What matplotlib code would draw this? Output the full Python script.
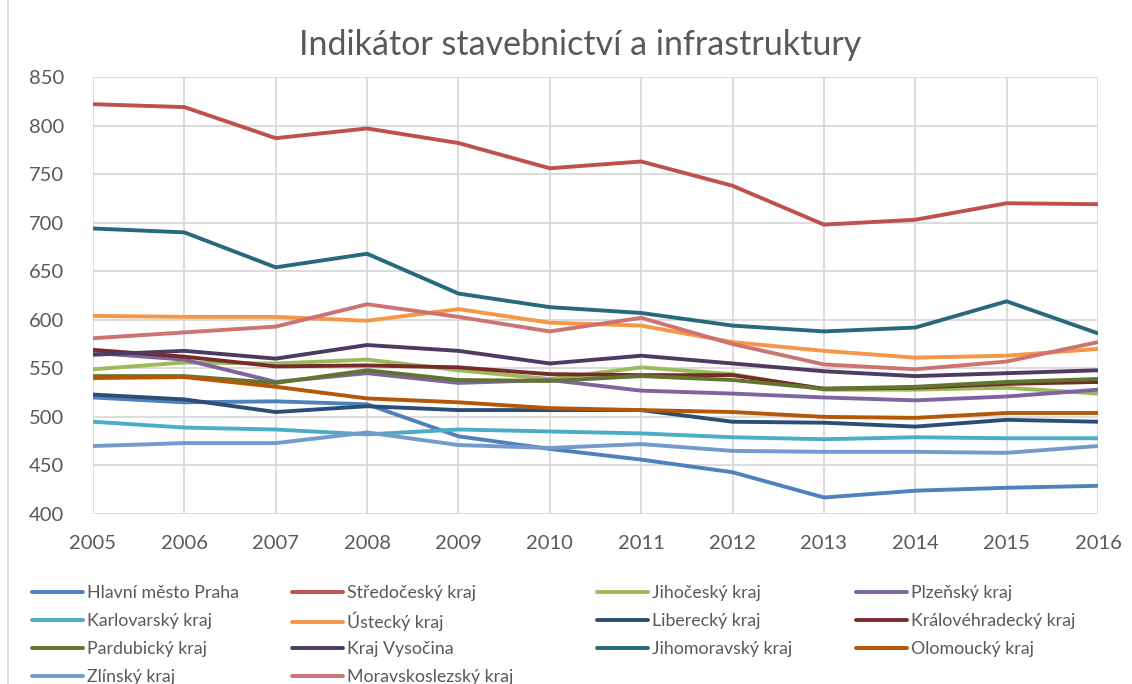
import matplotlib
matplotlib.use("Agg")
import matplotlib.pyplot as plt
from matplotlib.patches import Rectangle

years = list(range(2005, 2017))

regions = ["Hlavní město Praha", "Středočeský kraj", "Jihočeský kraj", "Plzeňský kraj",
           "Karlovarský kraj", "Ústecký kraj", "Liberecký kraj", "Královéhradecký kraj",
           "Pardubický kraj", "Kraj Vysočina", "Jihomoravský kraj", "Olomoucký kraj",
           "Zlínský kraj", "Moravskoslezský kraj"]

praha = [520, 515, 516, 513, 480, 467, 456, 443, 417, 424, 427, 429]
stredocesky = [822, 819, 787, 797, 782, 756, 763, 738, 698, 703, 720, 719]
jihocesky = [549, 556, 555, 559, 548, 539, 551, 544, 528, 528, 530, 524]
plzensky = [566, 559, 536, 545, 535, 538, 527, 524, 520, 517, 521, 528]
karlovarsky = [495, 489, 487, 482, 487, 485, 483, 479, 477, 479, 478, 478]
ustecky = [604, 603, 603, 599, 611, 597, 594, 577, 568, 561, 563, 570]
liberecky = [523, 518, 505, 511, 507, 507, 507, 495, 494, 490, 497, 495]
kralovehradecky = [569, 562, 552, 553, 551, 544, 543, 543, 529, 530, 534, 536]
pardubicky = [542, 542, 535, 548, 538, 537, 542, 538, 529, 531, 536, 539]
vysocina = [564, 568, 560, 574, 568, 555, 563, 555, 547, 542, 545, 548]
jihomoravsky = [694, 690, 654, 668, 627, 613, 607, 594, 588, 592, 619, 586]
olomoucky = [540, 541, 531, 519, 515, 509, 507, 505, 500, 499, 504, 504]
zlinsky = [470, 473, 473, 484, 471, 468, 472, 465, 464, 464, 463, 470]
moravskoslezsky = [581, 587, 593, 616, 603, 588, 602, 575, 554, 549, 557, 577]

series = [praha, stredocesky, jihocesky, plzensky, karlovarsky, ustecky, liberecky,
          kralovehradecky, pardubicky, vysocina, jihomoravsky, olomoucky, zlinsky,
          moravskoslezsky]

colors = ["#4F81BD", "#C0504D", "#9BBB59", "#8064A2", "#4BACC6", "#F79646",
          "#2C4D75", "#772C2A", "#5F7530", "#4D3B62", "#276A7C", "#B65708",
          "#729ACA", "#CD7371"]

plt.rcParams["font.family"] = ["Lato", "DejaVu Sans"]
grey_text = "#595959"

fig = plt.figure(figsize=(11.32, 6.84), dpi=100)
ax = fig.add_axes([93 / 1132, 1 - 514 / 684, (1098 - 93) / 1132, (514 - 77) / 684])

lines = []
for vals, c in zip(series, colors):
    ln, = ax.plot(years, vals, color=c, lw=2.8, solid_capstyle="round")
    lines.append(ln)

ax.set_xlim(2005, 2016)
ax.set_ylim(400, 850)
ax.set_xticks(years)
ax.set_yticks(range(400, 851, 50))
ax.grid(True, color="#D9D9D9", lw=1.3)
ax.set_axisbelow(True)
for s in ax.spines.values():
    s.set_visible(False)
ax.tick_params(length=0, labelsize=14.5, labelcolor=grey_text)
ax.tick_params(axis="y", pad=21)
ax.tick_params(axis="x", pad=15)

fig.text(580 / 1132, 1 - 45 / 684, "Indikátor stavebnictví a infrastruktury",
         ha="center", va="center", fontsize=24.5, color=grey_text)

# chart border (only top/left visible in the crop)
fig.add_artist(Rectangle((8 / 1132, -0.2), 1.5, 1.2 + (1 - 11 / 684),
                         transform=fig.transFigure, fill=False,
                         edgecolor="#D9D9D9", lw=1.2))

# legend: 4 columns, filled row-wise; one entry each so rows stay aligned
col_x = [32, 292, 597, 856]
row_y = [593, 621, 649, 677]
for i, name in enumerate(regions):
    r, c = divmod(i, 4)
    fig.legend([lines[i]], [name], loc="center left",
               bbox_to_anchor=(col_x[c] / 1132, 1 - row_y[r] / 684),
               frameon=False, fontsize=12.8, labelcolor=grey_text,
               handlelength=2.85, handletextpad=0.25,
               borderpad=0, borderaxespad=0)

fig.savefig("out.png", dpi=100)
